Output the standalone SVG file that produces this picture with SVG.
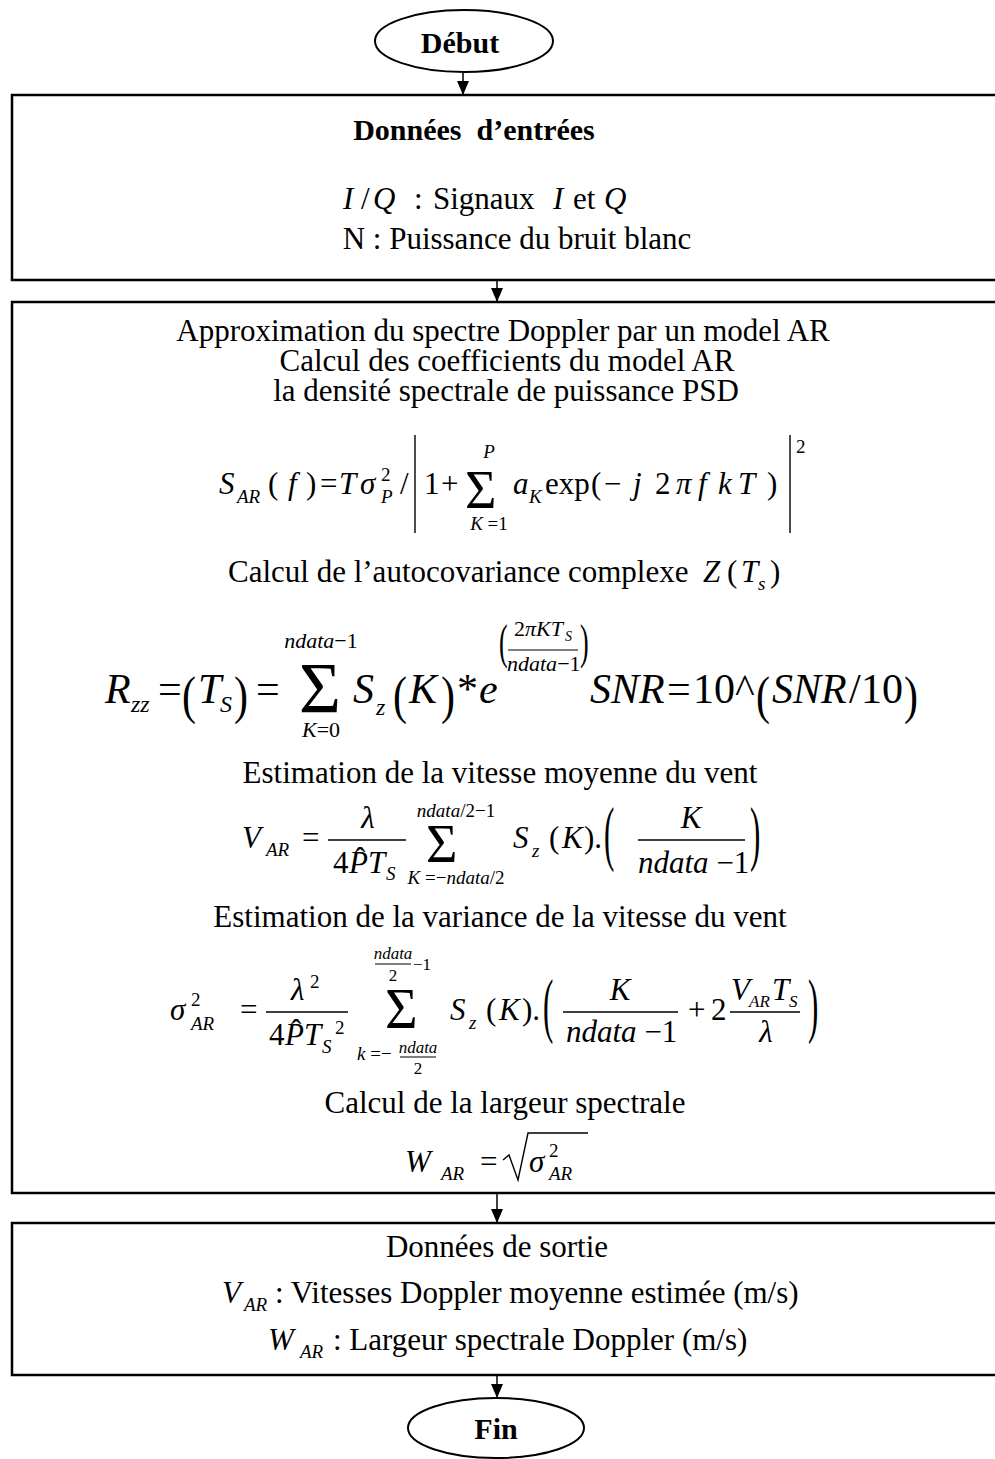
<svg xmlns="http://www.w3.org/2000/svg" width="995" height="1459" viewBox="0 0 995 1459">
<style>
.t{font-family:'Liberation Serif','Times New Roman',serif;font-size:31px;fill:#000}
.b{font-weight:bold;font-size:30px}
.i{font-style:italic}
.sm{font-size:19px}
.xs{font-size:17px}
.mid{text-anchor:middle}
.box{fill:#fff;stroke:#000;stroke-width:2.5}
.ell{fill:#fff;stroke:#000;stroke-width:2}
.ln{stroke:#000;stroke-width:1.4;fill:none}
.conn line{stroke:#000;stroke-width:1.5}
</style>
<defs>
<marker id="ah" markerUnits="userSpaceOnUse" markerWidth="14" markerHeight="12" refX="14" refY="6" orient="auto">
<path d="M0,0 L14,6 L0,12 z" fill="#000"/>
</marker>
</defs>
<rect width="995" height="1459" fill="#fff"/>

<g id="debut">
<ellipse class="ell" cx="464" cy="41" rx="89" ry="31"/>
<text class="t b mid" x="460" y="53">Début</text>
</g>

<g id="entrees">
<rect class="box" x="12" y="95" width="1000" height="185"/>
<text class="t b mid" x="474" y="140" xml:space="preserve">Données  d’entrées</text>
<text class="t i" x="343" y="209">I</text>
<text class="t" x="361" y="209">/</text>
<text class="t i" x="373" y="209">Q</text>
<text class="t" x="414" y="209">:</text>
<text class="t" x="433" y="209">Signaux</text>
<text class="t i" x="553" y="209">I</text>
<text class="t" x="573" y="209">et</text>
<text class="t i" x="604" y="209">Q</text>
<text class="t mid" x="517" y="249">N : Puissance du bruit blanc</text>
</g>

<g id="calcul">
<rect class="box" x="12" y="302" width="1000" height="891"/>
<text class="t mid" x="503" y="341">Approximation du spectre Doppler par un model AR</text>
<text class="t mid" x="507" y="371">Calcul des coefficients du model AR</text>
<text class="t mid" x="506" y="401">la densité spectrale de puissance PSD</text>

<!-- S_AR formula -->
<text class="t i" x="219" y="494">S</text>
<text class="t i sm" x="237" y="503">AR</text>
<text class="t" x="268" y="494">(</text>
<text class="t i" x="288" y="494">f</text>
<text class="t" x="306" y="494">)</text>
<text class="t" x="320" y="494">=</text>
<text class="t i" x="339" y="494">T</text>
<text class="t i" x="360" y="494">σ</text>
<text class="t sm" x="381" y="481">2</text>
<text class="t i sm" x="381" y="503">P</text>
<text class="t" x="400" y="494">/</text>
<line class="ln" x1="415" y1="435" x2="415" y2="533"/>
<text class="t" x="424" y="494">1</text>
<text class="t" x="441" y="494">+</text>
<text class="t" x="465" y="508" style="font-size:54px">Σ</text>
<text class="t i sm mid" x="489" y="458">P</text>
<text class="t sm mid" x="489" y="530"><tspan class="i">K</tspan> =1</text>
<text class="t i" x="513" y="494">a</text>
<text class="t i sm" x="529" y="503">K</text>
<text class="t" x="545" y="494">exp</text>
<text class="t" x="591" y="494">(</text>
<text class="t" x="604" y="494">−</text>
<text class="t i" x="633" y="494">j</text>
<text class="t" x="655" y="494">2</text>
<text class="t i" x="676" y="494">π</text>
<text class="t i" x="698" y="494">f</text>
<text class="t i" x="718" y="494">k</text>
<text class="t i" x="738" y="494">T</text>
<text class="t" x="767" y="494">)</text>
<line class="ln" x1="790" y1="435" x2="790" y2="533"/>
<text class="t sm" x="796" y="453">2</text>

<!-- autocovariance -->
<text class="t" x="228" y="582">Calcul de l’autocovariance complexe</text>
<text class="t i" x="703" y="582">Z</text>
<text class="t" x="727" y="582">(</text>
<text class="t i" x="741" y="582">T</text>
<text class="t i sm" x="758" y="590">s</text>
<text class="t" x="770" y="582">)</text>

<!-- R_zz formula -->
<g>
<text class="t i" x="105" y="703" style="font-size:42px">R</text>
<text class="t i" x="131" y="712" style="font-size:24px">zz</text>
<text class="t" x="158" y="703" style="font-size:42px">=</text>
<text class="t" transform="translate(182,713) scale(1,1.25)" style="font-size:42px">(</text>
<text class="t i" x="198" y="703" style="font-size:42px">T</text>
<text class="t i" x="220" y="712" style="font-size:24px">S</text>
<text class="t" transform="translate(234,713) scale(1,1.25)" style="font-size:42px">)</text>
<text class="t" x="256" y="703" style="font-size:42px">=</text>
<text class="t" x="299" y="712" style="font-size:72px">Σ</text>
<text class="t i mid" x="321" y="648" style="font-size:22px">ndata<tspan font-style="normal">−1</tspan></text>
<text class="t i mid" x="321" y="737" style="font-size:22px">K<tspan font-style="normal">=0</tspan></text>
<text class="t i" x="353" y="703" style="font-size:42px">S</text>
<text class="t i" x="376" y="715" style="font-size:24px">z</text>
<text class="t" transform="translate(393,713) scale(1,1.25)" style="font-size:42px">(</text>
<text class="t i" x="409" y="703" style="font-size:42px">K</text>
<text class="t" transform="translate(441,713) scale(1,1.25)" style="font-size:42px">)</text>
<text class="t" x="457" y="703" style="font-size:42px">*</text>
<text class="t i" x="479" y="703" style="font-size:42px">e</text>
<text class="t" transform="translate(499,658) scale(1,1.9)" style="font-size:26px">(</text>
<text class="t" x="514" y="636" style="font-size:22px">2<tspan font-style="italic">πKT</tspan></text>
<text class="t i" x="565" y="641" style="font-size:14px">S</text>
<line class="ln" x1="508" y1="650" x2="578" y2="650" style="stroke-width:1.2"/>
<text class="t i" x="507" y="671" style="font-size:22px">ndata<tspan font-style="normal">−1</tspan></text>
<text class="t" transform="translate(580,658) scale(1,1.9)" style="font-size:26px">)</text>
<text class="t i" x="590" y="703" style="font-size:42px">SNR</text>
<text class="t" x="667" y="703" style="font-size:42px">=</text>
<text class="t" x="693" y="703" style="font-size:42px">10</text>
<text class="t" x="735" y="703" style="font-size:42px">^</text>
<text class="t" transform="translate(756,713) scale(1,1.25)" style="font-size:42px">(</text>
<text class="t i" x="772" y="703" style="font-size:42px">SNR</text>
<text class="t" x="849" y="703" style="font-size:42px">/</text>
<text class="t" x="861" y="703" style="font-size:42px">10</text>
<text class="t" transform="translate(904,713) scale(1,1.25)" style="font-size:42px">)</text>
</g>

<!-- V_AR -->
<text class="t mid" x="500" y="783">Estimation de la vitesse moyenne du vent</text>
<text class="t i" x="242" y="848">V</text>
<text class="t i sm" x="266" y="856">AR</text>
<text class="t" x="302" y="848">=</text>
<text class="t i mid" x="368" y="828">λ</text>
<line class="ln" x1="328" y1="840" x2="406" y2="840"/>
<text class="t" x="333" y="873">4</text>
<text class="t i" x="349" y="873">P</text>
<text class="t" x="355" y="869">ˆ</text>
<text class="t i" x="368" y="873">T</text>
<text class="t i sm" x="386" y="880">S</text>
<text class="t" x="426" y="862" style="font-size:54px">Σ</text>
<text class="t i sm mid" x="456" y="817">ndata<tspan font-style="normal">/2−1</tspan></text>
<text class="t i sm mid" x="456" y="884">K<tspan font-style="normal"> =−</tspan>ndata<tspan font-style="normal">/2</tspan></text>
<text class="t i" x="513" y="848">S</text>
<text class="t i sm" x="532" y="857">z</text>
<text class="t" x="549" y="848">(</text>
<text class="t i" x="562" y="848">K</text>
<text class="t" x="584" y="848">).</text>
<text class="t" transform="translate(604,857) scale(1,2.3)">(</text>
<text class="t i mid" x="691" y="828">K</text>
<line class="ln" x1="638" y1="840" x2="745" y2="840"/>
<text class="t i" x="638" y="873">ndata<tspan font-style="normal"> −1</tspan></text>
<text class="t" transform="translate(750,857) scale(1,2.3)">)</text>

<!-- sigma -->
<text class="t mid" x="500" y="927">Estimation de la variance de la vitesse du vent</text>
<text class="t i" x="170" y="1020">σ</text>
<text class="t sm" x="191" y="1006">2</text>
<text class="t i sm" x="191" y="1030">AR</text>
<text class="t" x="240" y="1020">=</text>
<text class="t i" x="291" y="1000">λ</text>
<text class="t sm" x="310" y="988">2</text>
<line class="ln" x1="266" y1="1012" x2="348" y2="1012"/>
<text class="t" x="269" y="1045">4</text>
<text class="t i" x="285" y="1045">P</text>
<text class="t" x="291" y="1041">ˆ</text>
<text class="t i" x="304" y="1045">T</text>
<text class="t i sm" x="322" y="1053">S</text>
<text class="t sm" x="335" y="1034">2</text>
<text class="t" x="385" y="1028" style="font-size:56px">Σ</text>
<text class="t i xs mid" x="393" y="959">ndata</text>
<line class="ln" x1="375" y1="964" x2="411" y2="964" style="stroke-width:1"/>
<text class="t xs mid" x="393" y="981">2</text>
<text class="t xs" x="413" y="970">−1</text>
<text class="t i sm" x="357" y="1060">k<tspan font-style="normal"> =−</tspan></text>
<text class="t i xs mid" x="418" y="1053">ndata</text>
<line class="ln" x1="400" y1="1057" x2="436" y2="1057" style="stroke-width:1"/>
<text class="t xs mid" x="418" y="1074">2</text>
<text class="t i" x="450" y="1020">S</text>
<text class="t i sm" x="469" y="1029">z</text>
<text class="t" x="486" y="1020">(</text>
<text class="t i" x="499" y="1020">K</text>
<text class="t" x="522" y="1020">).</text>
<text class="t" transform="translate(543,1029) scale(1,2.3)">(</text>
<text class="t i mid" x="620" y="1000">K</text>
<line class="ln" x1="563" y1="1012" x2="678" y2="1012"/>
<text class="t i" x="566" y="1042">ndata<tspan font-style="normal"> −1</tspan></text>
<text class="t" x="688" y="1020">+</text>
<text class="t" x="711" y="1020">2</text>
<text class="t i" x="731" y="1000">V</text>
<text class="t i xs" x="749" y="1007">AR</text>
<text class="t i" x="772" y="1000">T</text>
<text class="t i xs" x="789" y="1007">S</text>
<line class="ln" x1="730" y1="1012" x2="800" y2="1012"/>
<text class="t i mid" x="766" y="1042">λ</text>
<text class="t" transform="translate(808,1029) scale(1,2.3)">)</text>

<!-- W_AR -->
<text class="t mid" x="505" y="1113">Calcul de la largeur spectrale</text>
<text class="t i" x="405" y="1172">W</text>
<text class="t i sm" x="441" y="1180">AR</text>
<text class="t" x="480" y="1172">=</text>
<polyline class="ln" points="503,1160 509,1155 518,1180 528,1133 588,1133"/>
<text class="t i" x="529" y="1172">σ</text>
<text class="t sm" x="549" y="1157">2</text>
<text class="t i sm" x="549" y="1180">AR</text>
</g>

<g id="sortie">
<rect class="box" x="12" y="1223" width="1000" height="152"/>
<text class="t mid" x="497" y="1257">Données de sortie</text>
<text class="t i" x="222" y="1303">V</text>
<text class="t i sm" x="244" y="1311">AR</text>
<text class="t" x="275" y="1303">: Vitesses Doppler moyenne estimée (m/s)</text>
<text class="t i" x="268" y="1350">W</text>
<text class="t i sm" x="300" y="1358">AR</text>
<text class="t" x="333" y="1350">: Largeur spectrale Doppler (m/s)</text>
</g>

<g id="fin">
<ellipse class="ell" cx="496" cy="1428" rx="88" ry="30"/>
<text class="t b mid" x="496" y="1439">Fin</text>
</g>

<g class="conn">
<line x1="463" y1="72" x2="463" y2="95" marker-end="url(#ah)"/>
<line x1="497" y1="280" x2="497" y2="302" marker-end="url(#ah)"/>
<line x1="497" y1="1193" x2="497" y2="1223" marker-end="url(#ah)"/>
<line x1="497" y1="1375" x2="497" y2="1398" marker-end="url(#ah)"/>
</g>
</svg>
